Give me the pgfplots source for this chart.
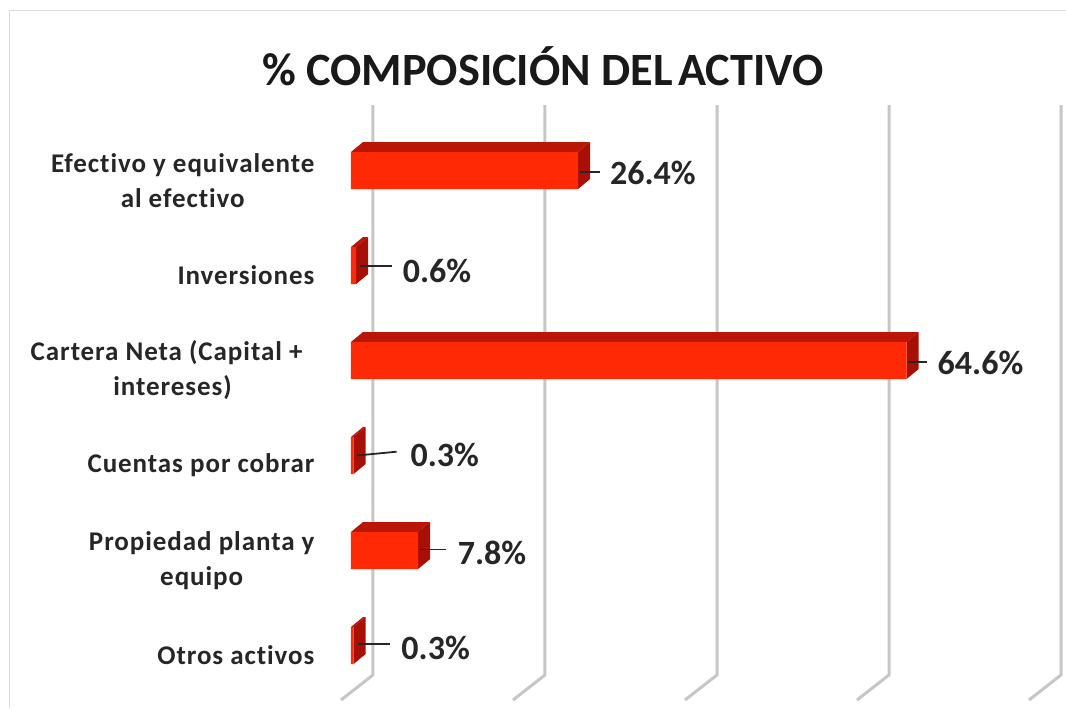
\documentclass[border=0pt]{standalone}
\usepackage{pgfplots}
\pgfplotsset{compat=1.18}
\usepackage{pgfplotstable}
\usepackage{fontspec}
\setmainfont{Carlito}
\newfontfamily\catfont[LetterSpace=3.5,Ligatures=NoCommon,BoldFont={Carlito Bold}]{Carlito}
\definecolor{front}{HTML}{FF2A05}
\definecolor{topf}{HTML}{BA1605}
\definecolor{sidef}{HTML}{A81005}
\definecolor{gridc}{HTML}{C6C6C6}
\definecolor{framec}{HTML}{DADADA}
\pgfplotstableread{
pos value
0 26.4
1 0.6
2 64.6
3 0.3
4 7.8
5 0.3
}\datatable
\begin{document}
\begin{tikzpicture}
\begin{axis}[
  scale only axis, width=715pt, height=708pt,
  xmin=0, xmax=83.14, ymin=-1.795, ymax=5.658,
  y dir=reverse, clip=false,
  axis line style={draw=none},
  major tick length=0pt,
  xtick=\empty,
  ytick={0,1,2,3,4,5},
  yticklabels={{Efectivo y equivalente\\al efectivo},{Inversiones},{Cartera Neta (Capital +\hspace*{12pt}\\intereses)},{Cuentas por cobrar},{Propiedad planta y\\equipo},{Otros activos}},
  yticklabel style={align=center, anchor=east, xshift=-33pt, yshift=-10pt, font=\fontsize{27}{35}\selectfont\catfont\bfseries, text=black!85},
  title={\% COMPOSICIÓN DEL\kern-5pt\ ACTIVO},
  every axis title/.style={at={(axis description cs:0.2685,0.906)}, anchor=center, font=\fontsize{46.3}{52}\selectfont\bfseries, text=black!90},
]
% page frame
\addplot[framec, line width=1pt] coordinates {(-39.65,5.658) (-39.65,-1.68) (83.14,-1.68)};
% gridlines of the 3-D back wall and floor
\addplot[gridc, line width=3pt] coordinates {(2.56,-0.689) (2.56,5.31) (-1.16,5.574)};
\addplot[gridc, line width=3pt] coordinates {(22.56,-0.689) (22.56,5.31) (18.84,5.574)};
\addplot[gridc, line width=3pt] coordinates {(42.56,-0.689) (42.56,5.31) (38.84,5.574)};
\addplot[gridc, line width=3pt] coordinates {(62.56,-0.689) (62.56,5.31) (58.84,5.574)};
\addplot[gridc, line width=3pt] coordinates {(82.56,-0.689) (82.56,5.31) (78.84,5.574)};
% top faces
\addplot[fill=topf, draw=none] coordinates {(0,-0.195) (26.4,-0.195) (27.8,-0.3) (1.4,-0.3)} -- cycle;
\addplot[fill=topf, draw=none] coordinates {(0,0.805) (0.6,0.805) (2.0,0.7) (1.4,0.7)} -- cycle;
\addplot[fill=topf, draw=none] coordinates {(0,1.805) (64.6,1.805) (66.0,1.7) (1.4,1.7)} -- cycle;
\addplot[fill=topf, draw=none] coordinates {(0,2.805) (0.3,2.805) (1.7,2.7) (1.4,2.7)} -- cycle;
\addplot[fill=topf, draw=none] coordinates {(0,3.805) (7.8,3.805) (9.2,3.7) (1.4,3.7)} -- cycle;
\addplot[fill=topf, draw=none] coordinates {(0,4.805) (0.3,4.805) (1.7,4.7) (1.4,4.7)} -- cycle;
% side faces
\addplot[fill=sidef, draw=none] coordinates {(26.4,-0.195) (27.8,-0.3) (27.8,0.09) (26.4,0.195)} -- cycle;
\addplot[fill=sidef, draw=none] coordinates {(0.6,0.805) (2.0,0.7) (2.0,1.09) (0.6,1.195)} -- cycle;
\addplot[fill=sidef, draw=none] coordinates {(64.6,1.805) (66.0,1.7) (66.0,2.09) (64.6,2.195)} -- cycle;
\addplot[fill=sidef, draw=none] coordinates {(0.3,2.805) (1.7,2.7) (1.7,3.09) (0.3,3.195)} -- cycle;
\addplot[fill=sidef, draw=none] coordinates {(7.8,3.805) (9.2,3.7) (9.2,4.09) (7.8,4.195)} -- cycle;
\addplot[fill=sidef, draw=none] coordinates {(0.3,4.805) (1.7,4.7) (1.7,5.09) (0.3,5.195)} -- cycle;
% front faces
\addplot[xbar, bar width=37pt, bar shift=0pt, fill=front, draw=none] table[x=value, y=pos] {\datatable};
% leader lines
\addplot[black!85, line width=1.8pt] coordinates {(26.6,0.016) (29.0,0.016)};
\addplot[black!85, line width=1.8pt] coordinates {(1.0,1.006) (4.8,1.006)};
\addplot[black!85, line width=1.8pt] coordinates {(64.8,2.016) (67.0,2.016)};
\addplot[black!85, line width=1.8pt] coordinates {(0.7,3.0) (5.3,2.96)};
\addplot[black!85, line width=1.8pt] coordinates {(8.0,3.99) (11.0,3.99)};
\addplot[black!85, line width=1.8pt] coordinates {(0.8,4.985) (4.5,4.985)};
% value labels
\node[anchor=west, inner sep=0pt, font=\fontsize{34}{38}\selectfont\bfseries, text=black!85] at (axis cs:30.1,0.03) {26.4\%};
\node[anchor=west, inner sep=0pt, font=\fontsize{34}{38}\selectfont\bfseries, text=black!85] at (axis cs:6.0,1.06) {0.6\%};
\node[anchor=west, inner sep=0pt, font=\fontsize{34}{38}\selectfont\bfseries, text=black!85] at (axis cs:68.2,2.03) {64.6\%};
\node[anchor=west, inner sep=0pt, font=\fontsize{34}{38}\selectfont\bfseries, text=black!85] at (axis cs:6.9,2.99) {0.3\%};
\node[anchor=west, inner sep=0pt, font=\fontsize{34}{38}\selectfont\bfseries, text=black!85] at (axis cs:12.4,4.03) {7.8\%};
\node[anchor=west, inner sep=0pt, font=\fontsize{34}{38}\selectfont\bfseries, text=black!85] at (axis cs:5.85,5.03) {0.3\%};
\coordinate (A) at (axis cs:-40.81,-1.795);
\coordinate (B) at (axis cs:83.14,5.658);
\end{axis}
\pgfresetboundingbox
\path[use as bounding box] (A) rectangle (B);
\end{tikzpicture}
\end{document}
